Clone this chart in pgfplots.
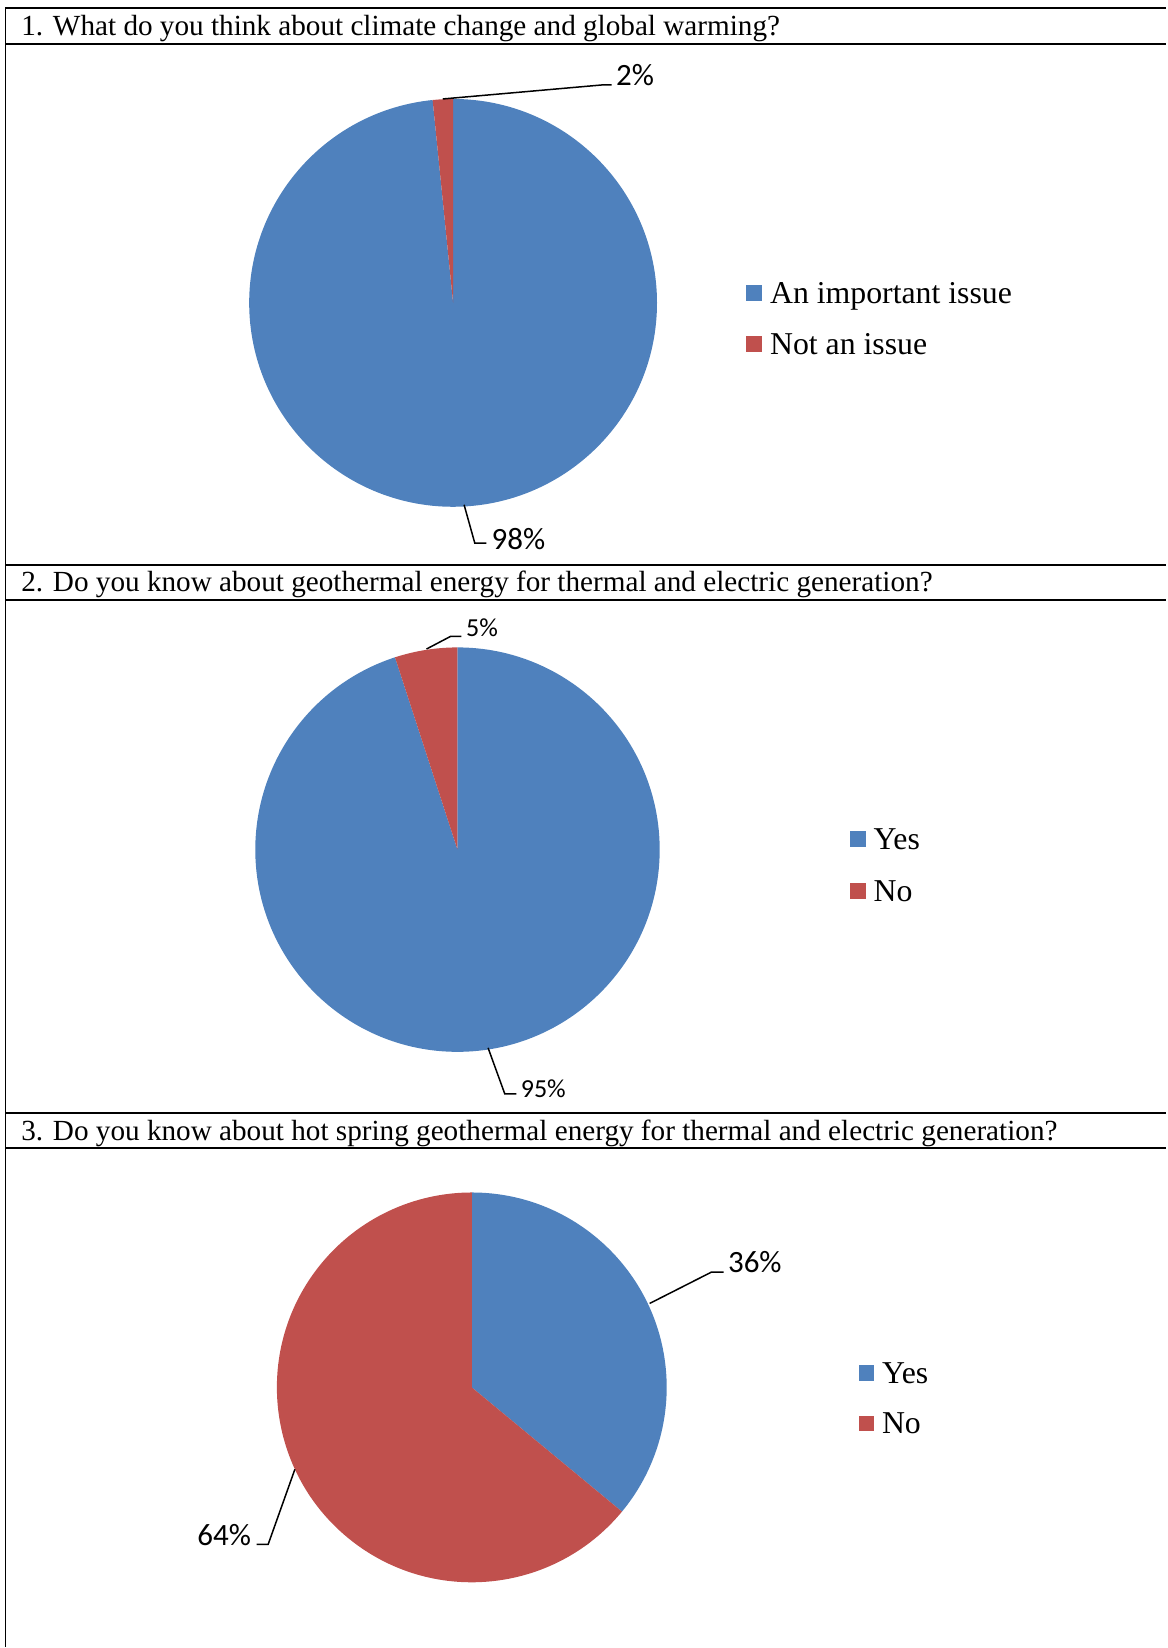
\documentclass[border=0pt]{standalone}
\usepackage{fontspec}
\setmainfont{Liberation Serif}
\newfontfamily\calibri{Carlito}
\usepackage{pgfplots}
\usepackage{pgfplotstable}
\pgfplotsset{compat=1.18}
\definecolor{pblue}{HTML}{4F81BD}
\definecolor{pred}{HTML}{C0504D}

% pie geometry (px) and shares (%)
\pgfplotstableread{
pie cx cy r first second
1 453.3 303 204 98.4 1.6
2 457.7 850 202.3 95 5
3 472 1388 195 36 64
}\piedata

\newcommand\drawpie[1]{%
  \pgfplotstablegetelem{#1}{cx}\of\piedata\edef\pcx{\pgfplotsretval}%
  \pgfplotstablegetelem{#1}{cy}\of\piedata\edef\pcy{\pgfplotsretval}%
  \pgfplotstablegetelem{#1}{r}\of\piedata\edef\pr{\pgfplotsretval}%
  \pgfplotstablegetelem{#1}{first}\of\piedata\edef\pa{\pgfplotsretval}%
  \pgfmathsetmacro\pend{90-3.6*\pa}%
  \pgfmathsetmacro\prr{0.5*\pr}%
  \edef\dodraw{%
    \noexpand\fill[pblue] (axis cs:\pcx,\pcy) -- ++(90:\prr pt) arc[start angle=90,end angle=\pend,radius=\prr pt] -- cycle;
    \noexpand\fill[pred] (axis cs:\pcx,\pcy) -- ++(\pend:\prr pt) arc[start angle=\pend,end angle=-270,radius=\prr pt] -- cycle;
  }\dodraw}

\newcommand\titlefont{\fontsize{14.6}{17}\selectfont}
\newcommand\legfont{\fontsize{15.9}{18}\selectfont}
\newcommand\lblA{\calibri\fontsize{15.5}{18}\selectfont}
\newcommand\lblB{\calibri\fontsize{13}{15}\selectfont}

\begin{document}
\begin{tikzpicture}
\begin{axis}[width=583.5pt,height=824pt,scale only axis,
  xmin=0,xmax=1167,ymin=0,ymax=1648,y dir=reverse,
  hide axis,clip=false]
\path (axis cs:0,0) rectangle (axis cs:1167,1648);
% frame
\draw[line width=1pt] (axis cs:5.3,8.4) -- (axis cs:1167,8.4);
\draw[line width=1pt] (axis cs:5.3,44) -- (axis cs:1167,44);
\draw[line width=1pt] (axis cs:5.3,565) -- (axis cs:1167,565);
\draw[line width=1pt] (axis cs:5.3,600) -- (axis cs:1167,600);
\draw[line width=1pt] (axis cs:5.3,1113.4) -- (axis cs:1167,1113.4);
\draw[line width=1pt] (axis cs:5.3,1149) -- (axis cs:1167,1149);
\draw[line width=0.75pt] (axis cs:5.3,8.4) -- (axis cs:5.3,1648);
% titles
\node[anchor=base west,inner sep=0,font=\titlefont] at (axis cs:21,36) {1. What do you think about climate change and global warming?};
\node[anchor=base west,inner sep=0,font=\titlefont] at (axis cs:21,592) {2. Do you know about geothermal energy for thermal and electric generation?};
\node[anchor=base west,inner sep=0,font=\titlefont] at (axis cs:21,1141) {3. Do you know about hot spring geothermal energy for thermal and electric generation?};
% pies
\drawpie{0}
\drawpie{1}
\drawpie{2}
% leader lines and labels
\draw[line width=0.75pt] (axis cs:443,99) -- (axis cs:602,85) -- (axis cs:612,85);
\node[anchor=base west,inner sep=0,font=\lblA] at (axis cs:616,86) {2\%};
\draw[line width=0.75pt] (axis cs:464.3,505) -- (axis cs:475,543.3) -- (axis cs:486.7,543.3);
\node[anchor=base west,inner sep=0,font=\lblA] at (axis cs:491.5,549.3) {98\%};
\draw[line width=0.75pt] (axis cs:426.7,649.3) -- (axis cs:450.7,636.7) -- (axis cs:461.7,636.7);
\node[anchor=base west,inner sep=0,font=\lblB] at (axis cs:466,637) {5\%};
\draw[line width=0.75pt] (axis cs:488.3,1048.3) -- (axis cs:505,1094.3) -- (axis cs:516.7,1094.3);
\node[anchor=base west,inner sep=0,font=\lblB] at (axis cs:520.7,1098.3) {95\%};
\draw[line width=0.75pt] (axis cs:650,1304) -- (axis cs:711.7,1272.7) -- (axis cs:724,1272.7);
\node[anchor=base west,inner sep=0,font=\lblA] at (axis cs:728,1273.3) {36\%};
\draw[line width=0.75pt] (axis cs:295,1470) -- (axis cs:268.3,1545) -- (axis cs:256.7,1545);
\node[anchor=base east,inner sep=0,font=\lblA] at (axis cs:251.5,1546) {64\%};
% legends
\fill[pblue] (axis cs:746.5,285) rectangle (axis cs:762.3,300.7);
\node[anchor=base west,inner sep=0,font=\legfont] at (axis cs:770,303.3) {An important issue};
\fill[pred] (axis cs:746.5,336.5) rectangle (axis cs:762.3,352.3);
\node[anchor=base west,inner sep=0,font=\legfont] at (axis cs:770,354.5) {Not an issue};
\fill[pblue] (axis cs:850.6,831.6) rectangle (axis cs:866.3,847.4);
\node[anchor=base west,inner sep=0,font=\legfont] at (axis cs:873.7,850) {Yes};
\fill[pred] (axis cs:850.6,883) rectangle (axis cs:866.3,899);
\node[anchor=base west,inner sep=0,font=\legfont] at (axis cs:873.7,901.5) {No};
\fill[pblue] (axis cs:859,1365.7) rectangle (axis cs:874.7,1381.5);
\node[anchor=base west,inner sep=0,font=\legfont] at (axis cs:882,1384) {Yes};
\fill[pred] (axis cs:859,1416.2) rectangle (axis cs:874.7,1432);
\node[anchor=base west,inner sep=0,font=\legfont] at (axis cs:882,1434.5) {No};
\end{axis}
\end{tikzpicture}
\end{document}
